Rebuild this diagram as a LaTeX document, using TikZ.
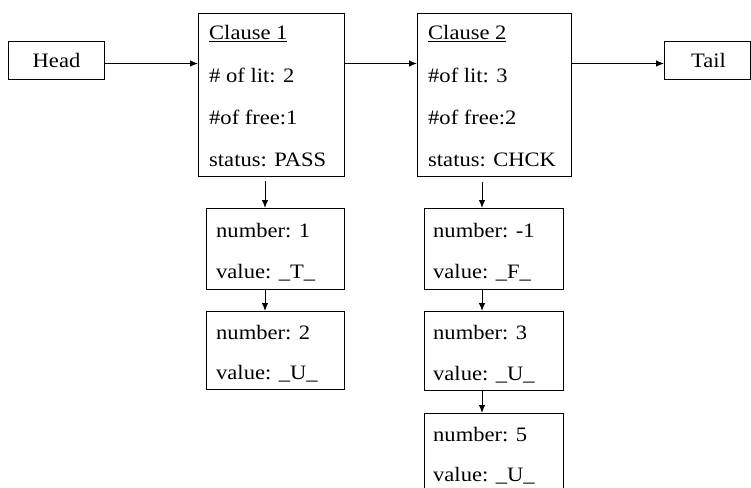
\documentclass[tikz,border=0pt]{standalone}
\usepackage{fontspec}
\setmainfont{Liberation Serif}[FakeStretch=1.1]
\usetikzlibrary{arrows.meta,calc}
\begin{document}
\begin{tikzpicture}[x=1pt,y=-1pt,
  box/.style={draw,line width=1pt,inner sep=0pt,anchor=north west},
  txt/.style={anchor=base west,inner sep=0pt,font=\fontsize{20.5}{24}\selectfont},
  ctxt/.style={inner sep=0pt,font=\fontsize{20.5}{24}\selectfont},
  arr/.style={line width=1pt,-{Latex[length=8pt,width=6.5pt]}}]
\useasboundingbox[fill=white] (0,0) rectangle (751,487);
\clip (0,0) rectangle (751,487);

% list ends
\node[box,minimum width=96pt,minimum height=38pt] (head) at (8,41) {};
\node[ctxt] (headtxt) at (head.center) {Head};
\node[box,minimum width=86pt,minimum height=38pt] (tail) at (664,41) {};
\node[ctxt] (tailtxt) at ($(tail.center)+(1,0)$) {Tail};

% clause records
\node[box,minimum width=146pt,minimum height=163pt] (c1) at (198,13) {};
\node[txt] (c1a) at (209,40) {\underline{Clause 1}};
\node[txt] (c1b) at (209,82) {\# of lit: 2};
\node[txt] (c1c) at (209,124) {\#of free:1};
\node[txt] (c1d) at (209,166) {status: PASS};

\node[box,minimum width=154pt,minimum height=163pt] (c2) at (417,13) {};
\node[txt] (c2a) at (428,40) {\underline{Clause 2}};
\node[txt] (c2b) at (428,82) {\#of lit: 3};
\node[txt] (c2c) at (428,124) {\#of free:2};
\node[txt] (c2d) at (428,166) {status: CHCK};

% literal records
\node[box,minimum width=138pt,minimum height=81pt] (n11) at (206,208) {};
\node[txt] (n11a) at (216,237) {number: 1};
\node[txt] (n11b) at (216,278) {value: \_T\_};
\node[box,minimum width=138pt,minimum height=78pt] (n12) at (206,311) {};
\node[txt] (n12a) at (216,339) {number: 2};
\node[txt] (n12b) at (216,379) {value: \_U\_};

\node[box,minimum width=139pt,minimum height=81pt] (n21) at (424,208) {};
\node[txt] (n21a) at (433,237) {number: -1};
\node[txt] (n21b) at (433,278) {value: \_F\_};
\node[box,minimum width=139pt,minimum height=79pt] (n22) at (424,311) {};
\node[txt] (n22a) at (433,339) {number: 3};
\node[txt] (n22b) at (433,380) {value: \_U\_};
\node[box,minimum width=139pt,minimum height=90pt] (n23) at (424,413) {};
\node[txt] (n23a) at (433,441) {number: 5};
\node[txt] (n23b) at (433,481) {value: \_U\_};

% horizontal links
\coordinate (hs) at ($(head.east)+(0,3)$);
\draw[arr] (hs) -- (hs -| c1.west);
\draw[arr] (hs -| c1.east) -- (hs -| c2.west);
\draw[arr] (hs -| c2.east) -- (hs -| tail.west);

% vertical links
\coordinate (colA) at (265,0);
\coordinate (colB) at (482,0);
\draw[arr] ($(c1.south -| colA)+(0,4)$) -- (n11.north -| colA);
\draw[arr] (n11.south -| colA) -- (n12.north -| colA);
\draw[arr] ($(c2.south -| colB)+(0,5)$) -- (n21.north -| colB);
\draw[arr] (n21.south -| colB) -- (n22.north -| colB);
\draw[arr] (n22.south -| colB) -- (n23.north -| colB);
\end{tikzpicture}
\end{document}
